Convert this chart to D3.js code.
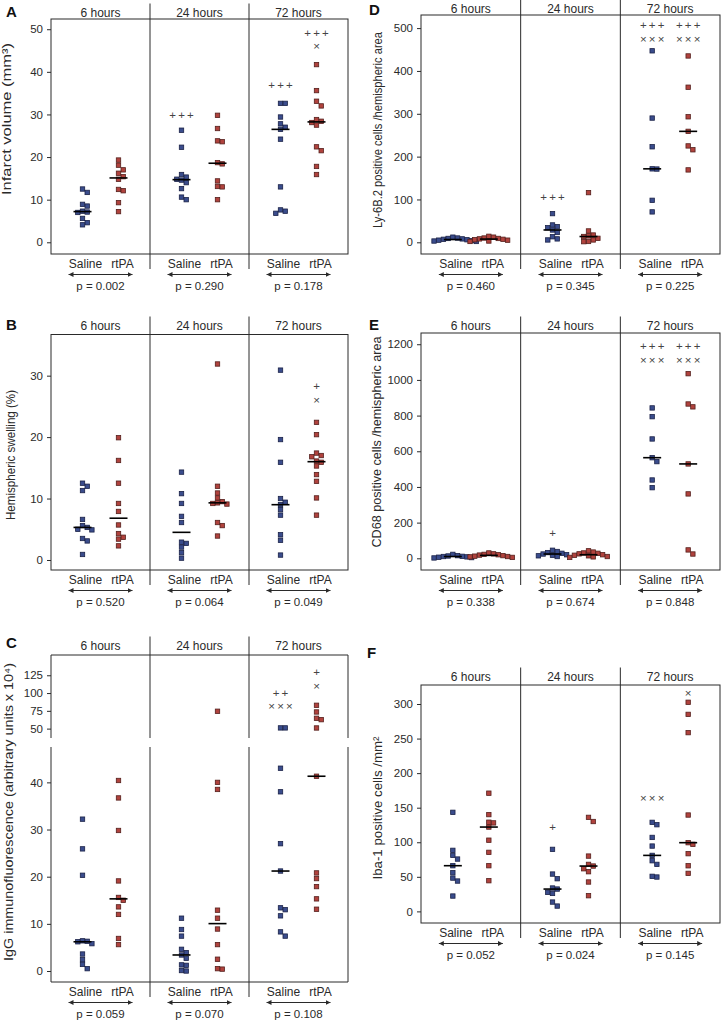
<!DOCTYPE html>
<html><head><meta charset="utf-8">
<script src="https://cdn.jsdelivr.net/npm/d3@7"></script>
<style>
body{margin:0;background:#fff}
text{font-family:"Liberation Sans",Arial,Helvetica,sans-serif}
</style>
</head><body>
<svg id="chart" width="721" height="1020"></svg>
<script>
// ---------- shared categories ----------
const times = ["6 hours", "24 hours", "72 hours"];
const groups = ["Saline", "rtPA"];

// ---------- A: infarct volume ----------
const infarctSaline = [
  [12.5, 11.7, 8.9, 8.5, 7.3, 7.1, 7.0, 5.6, 4.6, 4.1],
  [26.3, 22.3, 15.9, 15.3, 14.8, 14.6, 14.0, 12.6, 10.6, 10.0],
  [32.6, 32.6, 29.4, 27.8, 27.0, 26.5, 24.2, 13.0, 7.6, 7.3, 6.8]];
const infarctRtpa = [
  [19.3, 18.1, 17.0, 16.2, 15.4, 14.8, 12.4, 12.1, 9.3, 7.2],
  [29.8, 26.7, 23.8, 23.6, 18.7, 18.4, 14.4, 13.1, 13.0, 10.0],
  [41.7, 35.6, 33.1, 32.0, 28.8, 28.4, 28.1, 27.5, 22.4, 21.5, 17.8, 15.9]];
const infarctP = ["0.002", "0.290", "0.178"];
const infarctTicks = [0, 10, 20, 30, 40, 50];
const infarctMarks = [
  {t: 1, g: 0, text: "+++", v: 29.8},
  {t: 2, g: 0, text: "+++", v: 37.0},
  {t: 2, g: 1, text: "+++", v: 49.0},
  {t: 2, g: 1, text: "×", v: 46.2}];

// ---------- B: hemispheric swelling ----------
const swellSaline = [
  [12.5, 12.0, 11.3, 6.6, 5.6, 5.3, 5.0, 4.9, 3.5, 3.1, 0.9],
  [14.3, 10.8, 9.2, 7.1, 6.1, 2.9, 2.7, 2.1, 1.2, 0.3],
  [30.9, 19.6, 15.9, 10.0, 9.4, 9.0, 8.2, 7.3, 4.1, 3.2, 0.8]];
const swellRtpa = [
  [19.9, 16.2, 12.5, 9.2, 7.9, 5.7, 4.3, 3.7, 3.4, 2.3],
  [31.9, 12.0, 10.9, 10.1, 9.5, 9.3, 9.2, 9.1, 6.1, 5.6, 3.9],
  [22.4, 20.4, 17.4, 17.0, 16.8, 16.1, 15.9, 15.3, 13.9, 12.8, 10.1, 7.3]];
const swellP = ["0.520", "0.064", "0.049"];
const swellTicks = [0, 10, 20, 30];
const swellMarks = [
  {t: 2, g: 1, text: "+", v: 28.3},
  {t: 2, g: 1, text: "×", v: 26.2}];

// ---------- C: IgG immunofluorescence (broken axis) ----------
const iggSaline = [
  [32.2, 25.9, 20.3, 6.4, 6.3, 6.2, 5.8, 3.6, 2.4, 1.4, 0.5],
  [11.2, 8.8, 7.4, 4.6, 3.9, 3.4, 2.7, 1.3, 1.2, 0.1, 0.0],
  [51.0, 51.0, 43.0, 38.0, 27.0, 21.2, 13.4, 13.0, 11.7, 8.3, 7.4]];
const iggRtpa = [
  [40.4, 36.7, 29.8, 19.1, 15.6, 15.0, 13.6, 12.0, 6.9, 5.6],
  [74.4, 40.0, 38.5, 12.9, 11.2, 8.9, 5.6, 2.5, 0.5, 0.4],
  [82.8, 73.4, 64.5, 62.6, 50.9, 41.3, 20.8, 19.6, 17.9, 15.3, 13.1]];
const iggP = ["0.059", "0.070", "0.108"];
const iggTicksLower = [0, 10, 20, 30, 40];
const iggTicksUpper = [50, 75, 100, 125];
const iggMarks = [
  {t: 2, g: 0, text: "++", v: 99.7},
  {t: 2, g: 0, text: "×××", v: 82.8},
  {t: 2, g: 1, text: "+", v: 128.7},
  {t: 2, g: 1, text: "×", v: 111.9}];

// ---------- D: Ly-6B.2 ----------
const lySaline = [
  [12, 10, 9, 8, 7, 6, 5, 4, 3, 2],
  [67, 40.5, 36.6, 34, 28.8, 23, 13, 8, 5.5],
  [447, 290, 223, 171.5, 171, 98, 71]];
const lyRtpa = [
  [14, 12, 10, 9, 8, 7, 6, 5, 3, 2],
  [116, 26.5, 17, 15, 13.5, 9.3, 5.5, 2, 1.5],
  [435, 362, 293, 259, 225, 216, 169]];
const lyP = ["0.460", "0.345", "0.225"];
const lyTicks = [0, 100, 200, 300, 400, 500];
const lyMarks = [
  {t: 1, g: 0, text: "+++", v: 106.7},
  {t: 2, g: 0, text: "+++", v: 505},
  {t: 2, g: 0, text: "×××", v: 478},
  {t: 2, g: 1, text: "+++", v: 505},
  {t: 2, g: 1, text: "×××", v: 478}];

// ---------- E: CD68 ----------
const cdSaline = [
  [22, 15, 13, 11, 10, 8, 6, 4, 2],
  [45, 38, 32, 28, 24, 20, 17, 14, 10],
  [843, 794, 669, 564, 542, 439, 396]];
const cdRtpa = [
  [30, 25, 22, 20, 18, 15, 12, 10, 8, 5],
  [42, 35, 30, 28, 25, 20, 17, 14, 10, 8, 5],
  [1035, 865, 849, 529, 361, 47, 24]];
const cdP = ["0.338", "0.674", "0.848"];
const cdTicks = [0, 200, 400, 600, 800, 1000, 1200];
const cdMarks = [
  {t: 1, g: 0, text: "+", v: 144},
  {t: 2, g: 0, text: "+++", v: 1187},
  {t: 2, g: 0, text: "×××", v: 1116},
  {t: 2, g: 1, text: "+++", v: 1187},
  {t: 2, g: 1, text: "×××", v: 1116}];

// ---------- F: Iba-1 ----------
const ibaSaline = [
  [143.3, 88.3, 81, 75.7, 66.1, 56, 48.2, 43.9, 22.2],
  [89.7, 54, 47.3, 33.8, 32.3, 27.5, 26, 13.5, 7.7],
  [128.8, 125.4, 107, 94.5, 81, 73.3, 68, 50.7, 49.7]];
const ibaRtpa = [
  [171, 140, 129, 128, 122, 103, 85.4, 66.1, 44.4],
  [136, 130, 80, 68, 65.6, 61.7, 57.4, 42.5, 22.7],
  [302.5, 285, 258.6, 139.4, 99.4, 97, 83.5, 66, 55]];
const ibaP = ["0.052", "0.024", "0.145"];
const ibaTicks = [0, 50, 100, 150, 200, 250, 300];
const ibaMarks = [
  {t: 1, g: 0, text: "+", v: 122.5},
  {t: 2, g: 0, text: "×××", v: 164.5},
  {t: 2, g: 1, text: "×", v: 316}];

// ---------- panel options (built from the arrays above) ----------
const panels = [
  {letter: "A", title: "Infarct volume (mm³)", sal: infarctSaline, rtpa: infarctRtpa, p: infarctP,
   ticks: infarctTicks, marks: infarctMarks, domain: [-2.75, 52.4],
   box: [51, 19, 348, 254], letterPos: [6, 17], headerY: 16.5, titlePos: [10.5, 119, 152]},
  {letter: "B", title: "Hemispheric swelling (%)", sal: swellSaline, rtpa: swellRtpa, p: swellP,
   ticks: swellTicks, marks: swellMarks, domain: [-1.63, 36.7],
   box: [51, 334.5, 348, 570], letterPos: [6, 330], headerY: 329.5, titlePos: [15, 455, 130]},
  {letter: "C", title: "IgG immunofluorescence (arbitrary units x 10⁴)", sal: iggSaline, rtpa: iggRtpa, p: iggP,
   ticks: iggTicksLower, ticksUpper: iggTicksUpper, marks: iggMarks, domain: [-2.33, 47.5], domainUpper: [36.8, 153.5],
   breakAt: 47, brk: [738, 747],
   box: [51, 655, 348, 982], letterPos: [6, 648], headerY: 649.5, titlePos: [13, 812, 298]},
  {letter: "D", title: "Ly-6B.2 positive cells /hemispheric area", sal: lySaline, rtpa: lyRtpa, p: lyP,
   ticks: lyTicks, marks: lyMarks, domain: [-27.3, 530.6],
   box: [421, 15, 720, 254], letterPos: [369, 15], headerY: 12.5, titlePos: [382, 130, 196]},
  {letter: "E", title: "CD68 positive cells /hemispheric area", sal: cdSaline, rtpa: cdRtpa, p: cdP,
   ticks: cdTicks, marks: cdMarks, domain: [-65.6, 1263],
   box: [421, 333, 720, 570], letterPos: [369, 330], headerY: 329.5, titlePos: [381, 442, 211]},
  {letter: "F", title: "Iba-1 positive cells /mm²", sal: ibaSaline, rtpa: ibaRtpa, p: ibaP,
   ticks: ibaTicks, marks: ibaMarks, domain: [-16.8, 327.5],
   box: [421, 685, 720, 923], letterPos: [367, 658], headerY: 680.5, titlePos: [382, 808, 143]}
];

const svg = d3.select("#chart");
const INK = "#2a2a2a";
const colors = {Saline: {fill: "#3a4c8c", stroke: "#1b2247"}, rtPA: {fill: "#b0423d", stroke: "#55201d"}};
const SQ = 4.4;
const MARK_FS = 11.5, MARK_LS = 2.2, MARK_GAP = 13.6;

const defs = svg.append("defs");
defs.append("marker").attr("id", "ah").attr("viewBox", "0 0 6 6")
  .attr("refX", 6).attr("refY", 3).attr("markerWidth", 5).attr("markerHeight", 5)
  .attr("markerUnits", "userSpaceOnUse").attr("orient", "auto-start-reverse")
  .append("path").attr("d", "M0,0L6,3L0,6Z").attr("fill", INK);

function dodge(ys) {
  const order = d3.range(ys.length).sort((a, b) => ys[a] - ys[b]);
  const placed = [], off = new Array(ys.length);
  const step = SQ + 0.3;
  for (const i of order) {
    for (let k = 0; k < 40; k++) {
      const dx = k === 0 ? 0 : (k % 2 ? 1 : -1) * Math.ceil(k / 2) * step;
      if (!placed.some(p => Math.abs(p.x - dx) < step - 0.01 && Math.abs(p.y - ys[i]) < step - 0.01)) {
        off[i] = dx; placed.push({x: dx, y: ys[i]}); break;
      }
    }
  }
  return off;
}

function drawPanel(c) {
  const g = svg.append("g");
  const [x0, y0, x1, y1] = c.box;
  const xb = d3.scaleBand().domain(times).range([x0, x1]);
  const cx = t => xb(t) + xb.bandwidth() / 2;
  const xg = d3.scalePoint().domain(groups).range([-18, 18]);
  const xl = d3.scalePoint().domain(groups).range([-15, 22]);

  let yOf;
  const axisFmt = a => a.tickSize(4).tickPadding(4).tickSizeOuter(0).tickFormat(d3.format("d"));
  const styleAxis = sel => {
    sel.select(".domain").remove();
    sel.selectAll("line").attr("stroke", INK);
    sel.selectAll("text").attr("font-size", 11.5).attr("fill", INK).attr("font-family", "Liberation Sans, Arial, sans-serif");
  };
  if (c.breakAt !== undefined) {
    const yU = d3.scaleLinear().domain(c.domainUpper).range([c.brk[0], y0]);
    const yL = d3.scaleLinear().domain(c.domain).range([y1, c.brk[1]]);
    yOf = v => v >= c.breakAt ? yU(v) : yL(v);
    g.append("g").attr("transform", `translate(${x0},0)`).call(axisFmt(d3.axisLeft(yU).tickValues(c.ticksUpper))).call(styleAxis);
    g.append("g").attr("transform", `translate(${x0},0)`).call(axisFmt(d3.axisLeft(yL).tickValues(c.ticks))).call(styleAxis);
    g.append("path").attr("d", `M${x0},${c.brk[0]}V${y0}H${x1}V${c.brk[0]}`)
      .attr("fill", "none").attr("stroke", INK).attr("stroke-width", 1);
    g.append("path").attr("d", `M${x0},${c.brk[1]}V${y1}H${x1}V${c.brk[1]}`)
      .attr("fill", "none").attr("stroke", INK).attr("stroke-width", 1);
  } else {
    const y = d3.scaleLinear().domain(c.domain).range([y1, y0]);
    yOf = y;
    g.append("g").attr("transform", `translate(${x0},0)`).call(axisFmt(d3.axisLeft(y).tickValues(c.ticks))).call(styleAxis);
    g.append("rect").attr("x", x0).attr("y", y0).attr("width", x1 - x0).attr("height", y1 - y0)
      .attr("fill", "none").attr("stroke", INK).attr("stroke-width", 1);
  }

  // dividers between time groups
  const divTop = c.headerY - 13, divBot = y1 + 15;
  times.slice(1).forEach(t => {
    const x = xb(t);
    if (c.breakAt !== undefined) {
      g.append("line").attr("x1", x).attr("x2", x).attr("y1", divTop).attr("y2", c.brk[0]).attr("stroke", INK);
      g.append("line").attr("x1", x).attr("x2", x).attr("y1", c.brk[1]).attr("y2", divBot).attr("stroke", INK);
    } else {
      g.append("line").attr("x1", x).attr("x2", x).attr("y1", divTop).attr("y2", divBot).attr("stroke", INK);
    }
  });

  // headers
  g.selectAll(".hdr").data(times).join("text")
    .attr("x", d => cx(d)).attr("y", c.headerY).attr("text-anchor", "middle")
    .attr("font-size", 12).attr("fill", INK).text(d => d);

  // panel letter
  g.append("text").attr("x", c.letterPos[0]).attr("y", c.letterPos[1])
    .attr("font-size", 15).attr("font-weight", "bold").attr("fill", "#111").text(c.letter);

  // y title
  g.append("text").attr("transform", `translate(${c.titlePos[0]},${c.titlePos[1]}) rotate(-90)`)
    .attr("text-anchor", "middle").attr("font-size", 12).attr("fill", INK)
    .attr("textLength", c.titlePos[2]).attr("lengthAdjust", "spacingAndGlyphs")
    .text(c.title);

  // points + medians
  times.forEach((t, i) => {
    groups.forEach(gr => {
      const vals = (gr === "Saline" ? c.sal : c.rtpa)[i];
      const ys = vals.map(yOf);
      const offs = dodge(ys);
      const px = cx(t) + xg(gr);
      g.append("g").selectAll("rect").data(vals).join("rect")
        .attr("x", (d, k) => px + offs[k] - SQ / 2)
        .attr("y", (d, k) => ys[k] - SQ / 2)
        .attr("width", SQ).attr("height", SQ)
        .attr("fill", colors[gr].fill).attr("stroke", colors[gr].stroke).attr("stroke-width", 0.8);
      const m = d3.median(vals);
      g.append("line").attr("x1", px - 9).attr("x2", px + 9)
        .attr("y1", yOf(m)).attr("y2", yOf(m)).attr("stroke", "#000").attr("stroke-width", 1.6);
    });
    groups.forEach(gr => {
      g.append("text").attr("x", cx(t) + xl(gr)).attr("y", y1 + 13.5).attr("text-anchor", "middle")
        .attr("font-size", 12).attr("fill", INK).text(gr);
    });
    g.append("line").attr("x1", cx(t) - 32).attr("x2", cx(t) + 32)
      .attr("y1", y1 + 20.5).attr("y2", y1 + 20.5).attr("stroke", INK).attr("stroke-width", 1)
      .attr("marker-start", "url(#ah)").attr("marker-end", "url(#ah)");
    g.append("text").attr("x", cx(t)).attr("y", y1 + 36).attr("text-anchor", "middle")
      .attr("font-size", 11.5).attr("fill", INK).text("p = " + c.p[i]);
  });

  // significance marks; stacked marks in one column are kept at least MARK_GAP apart
  const byCol = d3.groups(c.marks, d => d.t + "-" + d.g);
  byCol.forEach(([key, ms]) => {
    const t = times[ms[0].t], gr = groups[ms[0].g];
    const x = cx(t) + xg(gr);
    const ys = ms.map(d => yOf(d.v));
    if (ys.length === 2 && Math.abs(ys[1] - ys[0]) < MARK_GAP) {
      const mid = (ys[0] + ys[1]) / 2, sgn = ys[1] > ys[0] ? 1 : -1;
      ys[0] = mid - sgn * MARK_GAP / 2; ys[1] = mid + sgn * MARK_GAP / 2;
    }
    ms.forEach((d, k) => {
      g.append("text").attr("x", x).attr("y", ys[k]).attr("dy", "0.36em")
        .attr("dx", MARK_LS / 2)
        .attr("text-anchor", "middle").attr("font-size", MARK_FS).attr("letter-spacing", MARK_LS)
        .attr("fill", "#444").text(d.text);
    });
  });
}

panels.forEach(drawPanel);
</script>
</body></html>
